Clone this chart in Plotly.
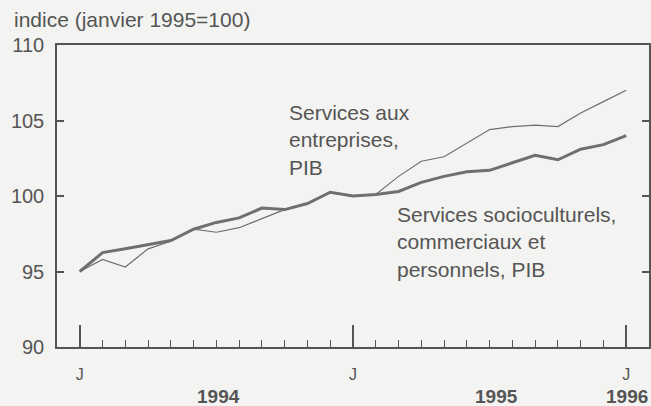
import plotly.graph_objects as go

# Monthly periods, Jan 1994 .. Jan 1996
months = ["1994-01", "1994-02", "1994-03", "1994-04", "1994-05", "1994-06",
          "1994-07", "1994-08", "1994-09", "1994-10", "1994-11", "1994-12",
          "1995-01", "1995-02", "1995-03", "1995-04", "1995-05", "1995-06",
          "1995-07", "1995-08", "1995-09", "1995-10", "1995-11", "1995-12",
          "1996-01"]

# Services aux entreprises, PIB (index Jan 1995 = 100)
entreprises = [95.0, 95.8, 95.3, 96.5, 97.0, 97.8, 97.6, 97.9, 98.5, 99.1,
               99.5, 100.25, 100.0, 100.1, 101.3, 102.3, 102.6, 103.5, 104.4,
               104.6, 104.7, 104.6, 105.5, 106.25, 107.0]

# Services socioculturels, commerciaux et personnels, PIB
socio = [95.0, 96.25, 96.5, 96.8, 97.05, 97.8, 98.25, 98.55, 99.2, 99.1,
         99.5, 100.25, 100.0, 100.1, 100.3, 100.9, 101.3, 101.6, 101.7,
         102.2, 102.7, 102.4, 103.1, 103.4, 104.0]

y_ticks = [90, 95, 100, 105, 110]
x_major_ticks = ["1994-01", "1995-01", "1996-01"]
x_major_text = ["J", "J", "J"]
year_labels = ["1994", "1995", "1996"]

x_idx = list(range(len(months)))
major_idx = [months.index(m) for m in x_major_ticks]

INK = "#555555"
LINE = "#6f6f6f"
FONT = "Liberation Sans, Arial, sans-serif"

fig = go.Figure()
fig.add_trace(go.Scatter(x=x_idx, y=entreprises, mode="lines",
                         line=dict(color=LINE, width=1.2), hoverinfo="skip"))
fig.add_trace(go.Scatter(x=x_idx, y=socio, mode="lines",
                         line=dict(color=LINE, width=3), hoverinfo="skip"))

fig.update_layout(
    width=651, height=406,
    margin=dict(l=57, r=2, t=45, b=59),
    paper_bgcolor="#f3f3f1", plot_bgcolor="#f3f3f1",
    showlegend=False,
    font=dict(family=FONT, color=INK, size=18),
)
fig.update_xaxes(
    range=[-1, 25], tickmode="array", tickvals=major_idx, ticktext=x_major_text,
    ticks="inside", ticklen=22, tickwidth=1.5, tickcolor=INK,
    minor=dict(tickmode="array", tickvals=x_idx, ticks="inside", ticklen=7,
               tickwidth=1, tickcolor=INK),
    showline=True, linecolor=INK, linewidth=1.5, mirror=True,
    showgrid=False, zeroline=False, tickfont=dict(size=16, color=INK),
    ticklabelstandoff=12, automargin=False,
)
fig.update_yaxes(
    range=[90, 110], tickmode="array", tickvals=y_ticks,
    ticks="inside", ticklen=7, tickwidth=1.5, tickcolor=INK,
    showline=True, linecolor=INK, linewidth=1.5, mirror="ticks",
    showgrid=False, zeroline=False, tickfont=dict(size=20, color=INK),
    ticklabelstandoff=7, automargin=False,
)

# Title
fig.add_annotation(text="indice (janvier 1995=100)", xref="paper", yref="paper",
                   x=0, y=1, xanchor="left", yanchor="bottom", xshift=-45, yshift=12,
                   showarrow=False, font=dict(size=21, color=INK), align="left")

# Series labels
fig.add_annotation(text="Services aux<br>entreprises,<br>PIB", xref="x", yref="y",
                   x=9.1, y=106.45, xanchor="left", yanchor="top", showarrow=False,
                   font=dict(size=21, color=INK), align="left")
fig.add_annotation(text="Services socioculturels,<br>commerciaux et<br>personnels, PIB",
                   xref="x", yref="y", x=13.85, y=99.65, xanchor="left", yanchor="top",
                   showarrow=False, font=dict(size=21, color=INK), align="left")

# Year labels
fig.add_annotation(text="<b>" + year_labels[0] + "</b>", xref="x", yref="paper", x=6.11, y=0,
                   yanchor="middle", yshift=-49, showarrow=False,
                   font=dict(size=19, color=INK))
fig.add_annotation(text="<b>" + year_labels[1] + "</b>", xref="x", yref="paper", x=18.32, y=0,
                   yanchor="middle", yshift=-49, showarrow=False,
                   font=dict(size=19, color=INK))
fig.add_annotation(text="<b>" + year_labels[2] + "</b>", xref="paper", yref="paper", x=1, y=0,
                   xanchor="right", yanchor="middle", yshift=-49, xshift=1, showarrow=False,
                   font=dict(size=19, color=INK))

fig.write_html("out.html", config={"displayModeBar": False},
               post_script="document.body.style.margin='0';"
                           "document.body.style.overflow='hidden';")
